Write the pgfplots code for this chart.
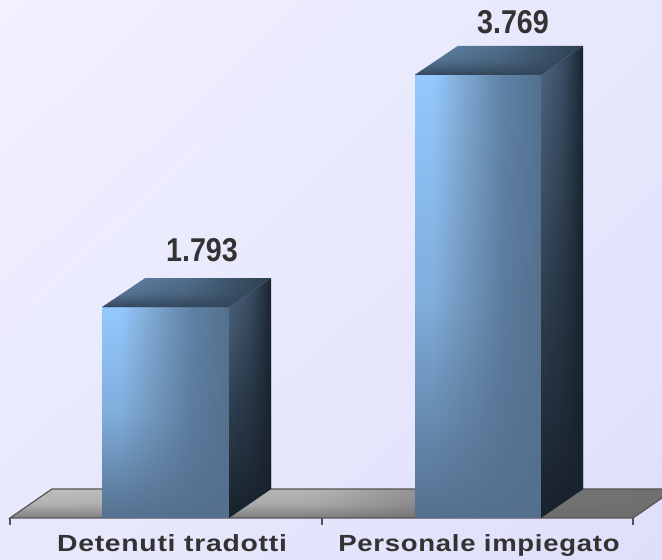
\documentclass[border=0pt]{standalone}
\usepackage{fontspec}
\usepackage{graphicx}
\usepackage{pgfplots}
\pgfplotsset{compat=1.18}
\usetikzlibrary{fadings,shadings}
\newfontfamily\catfont[FakeStretch=1.18,LetterSpace=3]{Liberation Sans Bold}
\newfontfamily\valfont[FakeStretch=0.87]{Liberation Sans Bold}
\definecolor{txt}{HTML}{333333}
\definecolor{edge}{HTML}{555555}
\definecolor{frontbottom}{HTML}{54708E}
\definecolor{sidebottom}{HTML}{18222C}
\definecolor{topfront}{HTML}{33465A}
\definecolor{floordark}{HTML}{6A6A6A}
\definecolor{bgul}{HTML}{F1F1FF}
\definecolor{bglr}{HTML}{DFDFFA}
\definecolor{bgur}{HTML}{E7E7FD}
\definecolor{bgll}{HTML}{E8E8FD}
\definecolor{fa}{HTML}{94C9FF}
\definecolor{fb}{HTML}{82ACD6}
\definecolor{fc}{HTML}{6082A6}
\definecolor{fd}{HTML}{54728F}
\definecolor{sa}{HTML}{506884}
\definecolor{sb}{HTML}{3C5066}
\definecolor{sc}{HTML}{243240}
\definecolor{sd}{HTML}{1A242E}
\definecolor{ta}{HTML}{648AAE}
\definecolor{tb}{HTML}{506E8C}
\definecolor{tc}{HTML}{2C3E4E}
\definecolor{la}{HTML}{C0C0C0}
\definecolor{lb}{HTML}{B4B4B4}
\definecolor{lc}{HTML}{767676}
\definecolor{ld}{HTML}{707070}
\pgfdeclarehorizontalshading{frontsh}{100bp}{color(0bp)=(fa);color(25bp)=(fa);color(32bp)=(fa);color(43bp)=(fb);color(60bp)=(fc);color(75bp)=(fd);color(100bp)=(fd)}
\pgfdeclarehorizontalshading{sidesh}{100bp}{color(0bp)=(sa);color(25bp)=(sa);color(50bp)=(sb);color(68bp)=(sc);color(75bp)=(sd);color(100bp)=(sd)}
\pgfdeclarehorizontalshading{topsh}{100bp}{color(0bp)=(ta);color(25bp)=(ta);color(50bp)=(tb);color(75bp)=(tc);color(100bp)=(tc)}
\pgfdeclarehorizontalshading{floorsh}{100bp}{color(0bp)=(la);color(25bp)=(la);color(48bp)=(lb);color(62bp)=(lc);color(75bp)=(ld);color(100bp)=(ld)}
\tikzfading[name=frontfade,top color=transparent!100,bottom color=transparent!0,middle color=transparent!70]
\tikzfading[name=sidefade,top color=transparent!100,bottom color=transparent!0,middle color=transparent!45]
\tikzfading[name=topfade,top color=transparent!100,bottom color=transparent!0,middle color=transparent!75]
\tikzfading[name=floorfade,top color=transparent!100,bottom color=transparent!25,middle color=transparent!85]
\begin{document}
\begin{tikzpicture}[x=1pt,y=1pt]
\path[use as bounding box] (0,-31.5) rectangle (496.5,388.5);
\shade[upper left=bgul,lower right=bglr,upper right=bgur,lower left=bgll] (0,-31.5) rectangle (496.5,388.5);
\foreach \a/\b in {60/-31.5,180/-31.5,300/-31.5,420/-31.5}{
  \draw[white,opacity=.25,line width=.5pt] (\a,\b) -- ++(100,90);
  \draw[white,opacity=.25,line width=.5pt] (\a-40,\b+190) -- ++(130,120);
}
\begin{axis}[
  at={(0,0)},anchor=origin,
  scale only axis,width=496.5pt,height=388.5pt,
  xmin=0,xmax=662,ymin=0,ymax=4405,
  axis y line=none,axis x line=bottom,
  axis line style={draw=none},
  xtick={172,479},
  xticklabels={\scalebox{1.03}[1]{Detenuti tradotti},Personale impiegato},
  minor xtick={10,322,633},
  major tick length=0pt,
  minor tick length=5pt,
  minor tick style={edge,line width=0.8pt},
  tick align=outside,
  x tick label style={font=\catfont\fontsize{17.5pt}{19pt}\selectfont,text=txt,anchor=center,text height=13pt,text depth=5pt,yshift=-21.5pt,inner sep=0pt},
  clip=false,
]
% floor (kept inside the picture on the right)
\begin{scope}
\clip (axis cs:0,-60) rectangle (axis cs:662,4405);
\addplot[draw=none,shading=floorsh] coordinates {(10,0)(52,246.6)(675,246.6)(633,0)} -- cycle;
\addplot[draw=none,fill=floordark,path fading=floorfade] coordinates {(10,0)(52,246.6)(675,246.6)(633,0)} -- cycle;
\addplot[draw=edge,line width=.9pt] coordinates {(10,0)(52,246.6)(675,246.6)(633,0)} -- cycle;
\end{scope}
% bar 1
\addplot[draw=none,shading=frontsh] coordinates {(102,0)(229,0)(229,1793)(102,1793)} -- cycle;
\addplot[draw=none,fill=frontbottom,path fading=frontfade] coordinates {(102,0)(229,0)(229,1793)(102,1793)} -- cycle;
\addplot[draw=none,shading=sidesh] coordinates {(229,0)(271,246.6)(271,2039.6)(229,1793)} -- cycle;
\addplot[draw=none,fill=sidebottom,path fading=sidefade] coordinates {(229,0)(271,246.6)(271,2039.6)(229,1793)} -- cycle;
\addplot[draw=none,shading=topsh] coordinates {(102,1793)(229,1793)(271,2039.6)(145,2039.6)} -- cycle;
\addplot[draw=none,fill=topfront,path fading=topfade] coordinates {(102,1793)(229,1793)(271,2039.6)(145,2039.6)} -- cycle;
% bar 2
\addplot[draw=none,shading=frontsh] coordinates {(415,0)(541,0)(541,3769)(415,3769)} -- cycle;
\addplot[draw=none,fill=frontbottom,path fading=frontfade] coordinates {(415,0)(541,0)(541,3769)(415,3769)} -- cycle;
\addplot[draw=none,shading=sidesh] coordinates {(541,0)(583,246.6)(583,4015.6)(541,3769)} -- cycle;
\addplot[draw=none,fill=sidebottom,path fading=sidefade] coordinates {(541,0)(583,246.6)(583,4015.6)(541,3769)} -- cycle;
\addplot[draw=none,shading=topsh] coordinates {(415,3769)(541,3769)(583,4015.6)(458,4015.6)} -- cycle;
\addplot[draw=none,fill=topfront,path fading=topfade] coordinates {(415,3769)(541,3769)(583,4015.6)(458,4015.6)} -- cycle;
% values
\addplot[draw=none,mark=none,point meta=explicit symbolic,nodes near coords,
  nodes near coords style={font=\valfont\fontsize{24.75pt}{26pt}\selectfont,text=txt,anchor=center,yshift=43pt,inner sep=0pt}]
  coordinates {(202,1793)[1.793]};
\addplot[draw=none,mark=none,point meta=explicit symbolic,nodes near coords,
  nodes near coords style={font=\valfont\fontsize{24.75pt}{26pt}\selectfont,text=txt,anchor=center,yshift=39.5pt,inner sep=0pt}]
  coordinates {(513,3769)[3.769]};
\end{axis}
\end{tikzpicture}
\end{document}
